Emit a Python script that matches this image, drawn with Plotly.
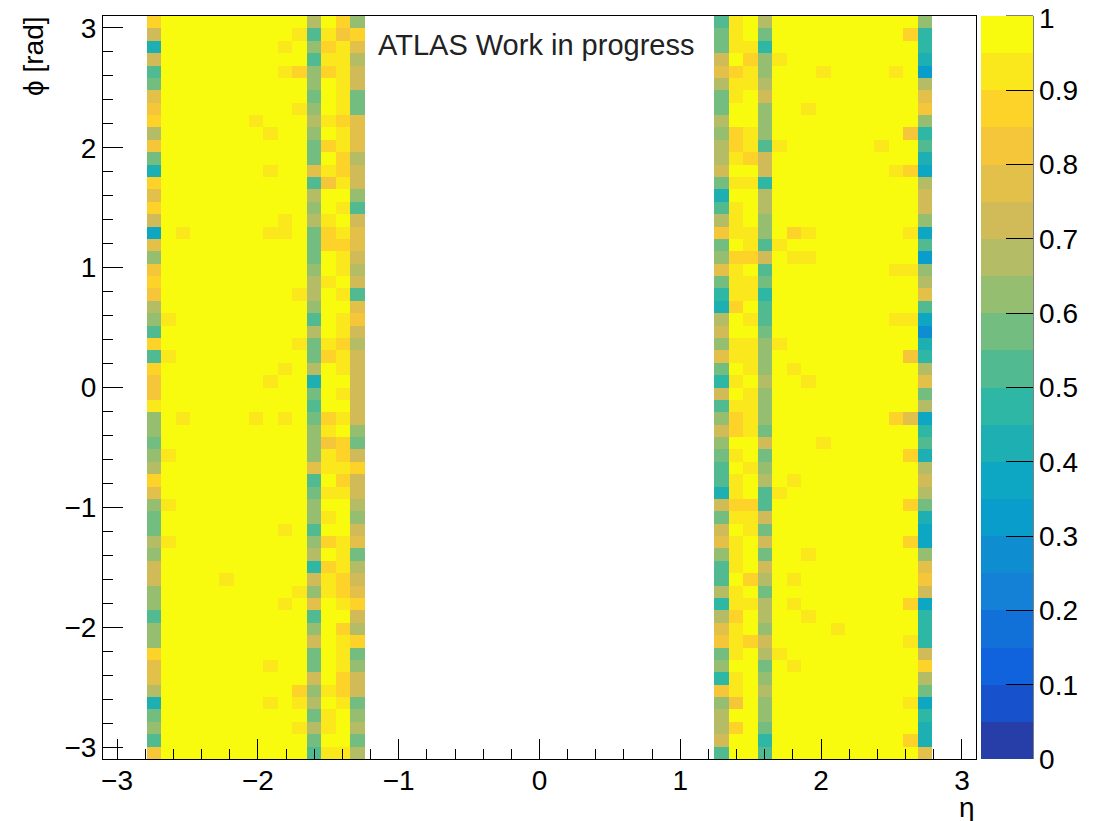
import numpy as np
import plotly.graph_objects as go

# ---------------- data ----------------
ETA_RANGE = (-3.1, 3.1)
PHI_RANGE = (-3.1, 3.1)
N_ETA = 60
N_PHI = 60
LEFT_START = 3     # first filled eta bin of the negative-eta block
RIGHT_START = 42   # first filled eta bin of the positive-eta block
BASE = 0.98        # plain interior value

# each list runs from the top phi row (phi = +3.1) to the bottom row
left_col0 = [0.87, 0.72, 0.42, 0.72, 0.52, 0.57, 0.77, 0.82, 0.87, 0.67,
             0.82, 0.57, 0.42, 0.87, 0.77, 0.87, 0.72, 0.37, 0.77, 0.62,
             0.82, 0.87, 0.82, 0.67, 0.62, 0.52, 0.87, 0.52, 0.87, 0.82,
             0.82, 0.92, 0.62, 0.62, 0.57, 0.62, 0.67, 0.87, 0.77, 0.62,
             0.57, 0.57, 0.67, 0.62, 0.72, 0.72, 0.62, 0.62, 0.52, 0.62,
             0.62, 0.87, 0.77, 0.77, 0.67, 0.42, 0.57, 0.62, 0.52, 0.82]
left_col11 = [0.67, 0.52, 0.62, 0.52, 0.62, 0.62, 0.57, 0.62, 0.67, 0.62,
              0.57, 0.57, 0.77, 0.52, 0.67, 0.62, 0.67, 0.57, 0.57, 0.57,
              0.62, 0.67, 0.67, 0.62, 0.52, 0.67, 0.57, 0.57, 0.67, 0.42,
              0.57, 0.52, 0.57, 0.62, 0.62, 0.62, 0.77, 0.52, 0.57, 0.62,
              0.62, 0.52, 0.62, 0.67, 0.47, 0.72, 0.62, 0.77, 0.52, 0.62,
              0.72, 0.57, 0.57, 0.72, 0.62, 0.67, 0.57, 0.67, 0.57, 0.52]
left_col12 = [0.98, 0.92, 0.87, 0.92, 0.87, 0.98, 0.98, 0.98, 0.92, 0.98,
              0.87, 0.98, 0.92, 0.82, 0.98, 0.98, 0.92, 0.87, 0.87, 0.98,
              0.98, 0.92, 0.98, 0.98, 0.98, 0.98, 0.92, 0.87, 0.98, 0.98,
              0.98, 0.98, 0.87, 0.92, 0.82, 0.92, 0.92, 0.98, 0.92, 0.98,
              0.92, 0.98, 0.87, 0.98, 0.87, 0.92, 0.92, 0.98, 0.98, 0.98,
              0.98, 0.98, 0.98, 0.98, 0.92, 0.98, 0.92, 0.92, 0.98, 0.92]
left_col13 = [0.87, 0.82, 0.92, 0.92, 0.92, 0.92, 0.92, 0.92, 0.87, 0.92,
              0.92, 0.87, 0.87, 0.92, 0.98, 0.92, 0.98, 0.92, 0.87, 0.92,
              0.92, 0.98, 0.92, 0.98, 0.92, 0.92, 0.87, 0.92, 0.92, 0.98,
              0.92, 0.98, 0.92, 0.98, 0.87, 0.87, 0.92, 0.87, 0.92, 0.98,
              0.98, 0.98, 0.92, 0.92, 0.92, 0.87, 0.87, 0.92, 0.98, 0.87,
              0.92, 0.92, 0.92, 0.87, 0.87, 0.92, 0.98, 0.98, 0.98, 0.92]
left_col14 = [0.62, 0.87, 0.77, 0.67, 0.72, 0.72, 0.57, 0.57, 0.77, 0.77,
              0.77, 0.67, 0.72, 0.72, 0.62, 0.52, 0.72, 0.77, 0.77, 0.72,
              0.67, 0.72, 0.52, 0.77, 0.82, 0.72, 0.67, 0.72, 0.72, 0.72,
              0.72, 0.72, 0.72, 0.62, 0.57, 0.72, 0.87, 0.72, 0.72, 0.67,
              0.62, 0.72, 0.77, 0.57, 0.67, 0.72, 0.77, 0.87, 0.72, 0.67,
              0.87, 0.57, 0.62, 0.72, 0.72, 0.57, 0.62, 0.67, 0.57, 0.67]
# (row from top, column inside block, value)
left_dips = [(1, 10, 0.92), (2, 9, 0.92), (4, 9, 0.92), (4, 10, 0.87),
             (7, 10, 0.92), (8, 7, 0.92), (9, 8, 0.92), (12, 8, 0.92),
             (16, 9, 0.92), (17, 2, 0.92), (17, 8, 0.92), (17, 9, 0.92),
             (22, 10, 0.92), (24, 1, 0.92), (26, 10, 0.92), (27, 1, 0.92),
             (28, 9, 0.92), (29, 8, 0.92), (32, 2, 0.92), (32, 7, 0.92),
             (32, 9, 0.92), (35, 1, 0.92), (39, 1, 0.92), (41, 9, 0.92),
             (42, 1, 0.92), (45, 5, 0.92), (46, 10, 0.92), (47, 9, 0.92),
             (52, 8, 0.92), (54, 10, 0.87), (55, 8, 0.92), (55, 10, 0.92),
             (57, 10, 0.92)]

right_col0 = [0.52, 0.57, 0.57, 0.72, 0.77, 0.67, 0.57, 0.57, 0.67, 0.62,
              0.67, 0.67, 0.72, 0.57, 0.42, 0.52, 0.67, 0.82, 0.57, 0.62,
              0.77, 0.57, 0.47, 0.42, 0.67, 0.72, 0.62, 0.77, 0.57, 0.47,
              0.72, 0.52, 0.62, 0.72, 0.62, 0.57, 0.52, 0.52, 0.42, 0.72,
              0.57, 0.72, 0.77, 0.62, 0.52, 0.52, 0.67, 0.47, 0.67, 0.77,
              0.82, 0.57, 0.62, 0.47, 0.82, 0.62, 0.67, 0.67, 0.72, 0.52]
right_col1 = [0.92, 0.92, 0.92, 0.98, 0.87, 0.92, 0.92, 0.98, 0.98, 0.87,
              0.87, 0.92, 0.98, 0.92, 0.98, 0.92, 0.92, 0.92, 0.98, 0.87,
              0.92, 0.92, 0.92, 0.87, 0.98, 0.98, 0.92, 0.92, 0.98, 0.92,
              0.98, 0.92, 0.87, 0.87, 0.98, 0.92, 0.98, 0.92, 0.92, 0.87,
              0.92, 0.98, 0.92, 0.92, 0.92, 0.98, 0.92, 0.92, 0.87, 0.92,
              0.92, 0.92, 0.98, 0.92, 0.92, 0.82, 0.98, 0.87, 0.98, 0.98]
right_col2 = [0.98, 0.98, 0.92, 0.87, 0.92, 0.92, 0.98, 0.98, 0.98, 0.92,
              0.92, 0.87, 0.98, 0.92, 0.98, 0.98, 0.98, 0.92, 0.92, 0.87,
              0.98, 0.92, 0.92, 0.98, 0.92, 0.98, 0.92, 0.92, 0.92, 0.98,
              0.92, 0.92, 0.92, 0.92, 0.98, 0.98, 0.92, 0.98, 0.98, 0.87,
              0.92, 0.92, 0.98, 0.98, 0.98, 0.87, 0.98, 0.92, 0.98, 0.98,
              0.87, 0.98, 0.98, 0.98, 0.98, 0.98, 0.98, 0.98, 0.98, 0.98]
right_col3 = [0.67, 0.57, 0.47, 0.62, 0.62, 0.67, 0.72, 0.62, 0.62, 0.62,
              0.52, 0.72, 0.72, 0.47, 0.67, 0.67, 0.62, 0.62, 0.52, 0.72,
              0.52, 0.57, 0.47, 0.52, 0.52, 0.57, 0.62, 0.62, 0.62, 0.67,
              0.62, 0.62, 0.62, 0.57, 0.72, 0.57, 0.62, 0.67, 0.52, 0.52,
              0.72, 0.57, 0.72, 0.57, 0.72, 0.67, 0.57, 0.67, 0.67, 0.62,
              0.72, 0.67, 0.57, 0.62, 0.67, 0.62, 0.62, 0.57, 0.47, 0.52]
right_col14 = [0.62, 0.47, 0.47, 0.42, 0.32, 0.67, 0.77, 0.82, 0.62, 0.47,
               0.52, 0.42, 0.37, 0.67, 0.72, 0.72, 0.62, 0.37, 0.52, 0.32,
               0.62, 0.67, 0.77, 0.52, 0.37, 0.27, 0.42, 0.47, 0.67, 0.77,
               0.57, 0.67, 0.37, 0.47, 0.52, 0.42, 0.67, 0.72, 0.67, 0.57,
               0.42, 0.37, 0.37, 0.62, 0.77, 0.82, 0.72, 0.37, 0.47, 0.47,
               0.47, 0.72, 0.87, 0.67, 0.57, 0.37, 0.47, 0.42, 0.42, 0.77]
right_dips = [(1, 13, 0.87), (3, 4, 0.92), (4, 7, 0.92), (4, 12, 0.92),
              (7, 6, 0.92), (9, 13, 0.82), (10, 4, 0.92), (10, 11, 0.92),
              (12, 12, 0.92), (12, 13, 0.87), (17, 5, 0.87), (17, 6, 0.92),
              (17, 13, 0.92), (18, 4, 0.92), (19, 5, 0.92), (19, 6, 0.92),
              (20, 12, 0.92), (20, 13, 0.92), (24, 12, 0.92), (24, 13, 0.92),
              (26, 4, 0.92), (27, 13, 0.82), (28, 5, 0.92), (29, 6, 0.92),
              (32, 12, 0.87), (32, 13, 0.77), (34, 7, 0.92), (35, 13, 0.87),
              (37, 5, 0.92), (38, 4, 0.92), (39, 13, 0.87), (42, 13, 0.87),
              (43, 6, 0.92), (45, 5, 0.92), (47, 5, 0.92), (47, 13, 0.87),
              (48, 6, 0.92), (49, 8, 0.92), (50, 13, 0.92), (51, 4, 0.92),
              (52, 5, 0.92), (55, 13, 0.92), (58, 13, 0.87)]

cb_tickvals = [0.0, 0.1, 0.2, 0.3, 0.4, 0.5, 0.6, 0.7, 0.8, 0.9]
cb_ticktext = ["0", "0.1", "0.2", "0.3", "0.4", "0.5", "0.6", "0.7", "0.8", "0.9"]
cb_top_label = "1"

# ---------------- build histogram ----------------
eta_edges = np.linspace(ETA_RANGE[0], ETA_RANGE[1], N_ETA + 1)
phi_edges = np.linspace(PHI_RANGE[0], PHI_RANGE[1], N_PHI + 1)
z = np.full((N_PHI, N_ETA), np.nan)


def fill_block(start, columns, dips):
    for c in range(15):
        z[:, start + c] = BASE
    for c, vals in columns.items():
        for r, v in enumerate(vals):
            z[N_PHI - 1 - r, start + c] = v
    for r, c, v in dips:
        z[N_PHI - 1 - r, start + c] = v


fill_block(LEFT_START, {0: left_col0, 11: left_col11, 12: left_col12,
                        13: left_col13, 14: left_col14}, left_dips)
fill_block(RIGHT_START, {0: right_col0, 1: right_col1, 2: right_col2,
                         3: right_col3, 14: right_col14}, right_dips)

# ROOT kBird palette, 20 discrete contour levels
stops = [0.0, 0.125, 0.25, 0.375, 0.5, 0.625, 0.75, 0.875, 1.0]
red = [0.2082, 0.0592, 0.0780, 0.0232, 0.1802, 0.5301, 0.8186, 0.9956, 0.9764]
green = [0.1664, 0.3599, 0.5041, 0.6419, 0.7178, 0.7492, 0.7328, 0.7862, 0.9832]
blue = [0.5293, 0.8684, 0.8385, 0.7914, 0.6425, 0.4662, 0.3499, 0.1968, 0.0539]


def bird(t):
    r = np.interp(t, stops, red)
    g = np.interp(t, stops, green)
    b = np.interp(t, stops, blue)
    return "rgb(%d,%d,%d)" % (round(r * 255), round(g * 255), round(b * 255))


NLEV = 20
colorscale = []
for i in range(NLEV):
    col = bird(int((i + 0.99) * 255 / NLEV) / 254.0)
    colorscale.append([i / NLEV, col])
    colorscale.append([(i + 1) / NLEV, col])

# page body adds an 8px offset; screen positions below are from the reference picture
OFF = 8
W, H = 1102, 821
SL, ST, PW, PH = 103, 16, 873, 743          # plot area on screen
ML, MT = SL - OFF, ST - OFF
MR = W - ML - PW
MB = H - MT - PH


def px(sx):
    return (sx - SL) / PW


def py(sy):
    return (ST + PH - sy) / PH


FONT = "Liberation Sans, Arial, Helvetica, sans-serif"

fig = go.Figure()
fig.add_trace(go.Heatmap(
    x=eta_edges, y=phi_edges, z=z,
    zmin=0, zmax=1, colorscale=colorscale,
    hoverongaps=False,
    colorbar=dict(
        x=px(981), xanchor="left", xpad=0,
        y=0.5, yanchor="middle", ypad=0,
        len=1, lenmode="fraction",
        thickness=52, thicknessmode="pixels",
        outlinewidth=0,
        ticks="inside", ticklen=27, tickwidth=1, tickcolor="black",
        tickvals=cb_tickvals, ticktext=cb_ticktext,
        tickfont=dict(family=FONT, size=28, color="black"),
    ),
))

axis_common = dict(
    showgrid=False, zeroline=False,
    showline=True, linecolor="black", linewidth=1, mirror=True,
    ticks="inside", ticklen=20, tickwidth=1, tickcolor="black",
    tick0=0, dtick=1,
    minor=dict(dtick=0.2, tick0=0, ticks="inside", ticklen=10,
               tickcolor="black", tickwidth=1, showgrid=False),
    tickfont=dict(family=FONT, size=28, color="black"),
)
fig.update_xaxes(range=list(ETA_RANGE), ticklabelstandoff=-4, **axis_common)
fig.update_yaxes(range=list(PHI_RANGE), **axis_common)

font_main = dict(family=FONT, size=28, color="black")
fig.add_annotation(text="ATLAS Work in progress", xref="paper", yref="paper",
                   x=px(376), y=py(45), xanchor="left", yanchor="middle",
                   showarrow=False, font=dict(family=FONT, size=29, color="#222222"))
fig.add_annotation(text="η", xref="paper", yref="paper",
                   x=px(977), y=py(807), xanchor="right", yanchor="middle",
                   showarrow=False, font=font_main)
fig.add_annotation(text="ϕ [rad]", xref="paper", yref="paper",
                   x=px(34), y=py(14), xanchor="center", yanchor="top",
                   textangle=-90, showarrow=False, font=font_main)
# top label of the palette axis
fig.add_annotation(text=cb_top_label, xref="paper", yref="paper",
                   x=px(1037), y=py(19), xanchor="left", yanchor="middle",
                   showarrow=False, font=font_main)
# palette axis line and its top tick
fig.add_shape(type="line", xref="paper", yref="paper",
              x0=px(1033), x1=px(1033), y0=0, y1=1,
              line=dict(color="black", width=1))
fig.add_shape(type="line", xref="paper", yref="paper",
              x0=px(1006), x1=px(1033), y0=1, y1=1,
              line=dict(color="black", width=1))

fig.update_layout(
    width=W, height=H,
    margin=dict(l=ML, r=MR, t=MT, b=MB, autoexpand=False),
    plot_bgcolor="white", paper_bgcolor="white",
    showlegend=False,
)

fig.write_html("out.html")
